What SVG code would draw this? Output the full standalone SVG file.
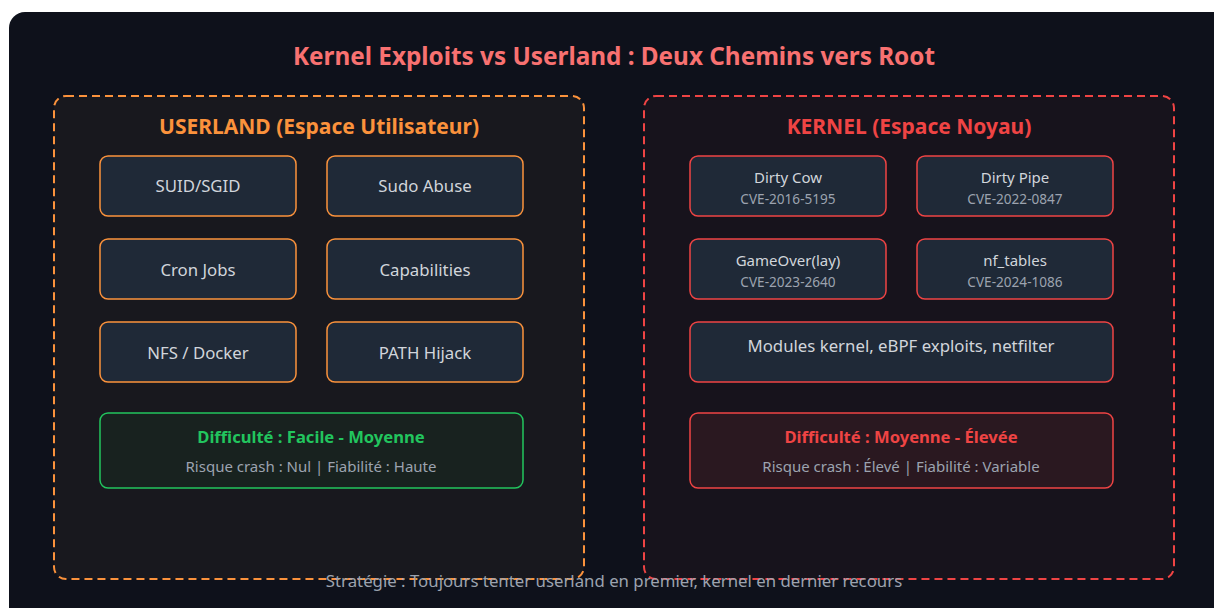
<svg xmlns="http://www.w3.org/2000/svg" width="1214" height="608" viewBox="0 0 1214 608">
<style>
text{font-family:"Noto Sans","Open Sans","DejaVu Sans",sans-serif;text-anchor:middle}
.title{font-size:24.3px;font-weight:bold;fill:#f87171}
.hdr{font-size:21px;font-weight:bold}
.ub{fill:#1f2937;stroke:#fb923c;stroke-width:1.5}
.kb{fill:#1f2937;stroke:#ef4444;stroke-width:1.5}
.lbl{font-size:16.8px;fill:#d1d5db}
.nm{font-size:15px;fill:#d1d5db}
.cve{font-size:13.6px;fill:#9ca3af}
.sub{font-size:15px;fill:#9ca3af}
.foot{font-size:16.8px;fill:#9ca3af}
.diff{font-size:16.6px;font-weight:bold}
</style>
<rect x="0" y="0" width="1214" height="608" fill="#ffffff"/>
<rect x="9" y="12" width="1225" height="620" rx="16" fill="#0e111b"/>
<text class="title" x="614" y="65">Kernel Exploits vs Userland : Deux Chemins vers Root</text>
<g id="userland">
<rect x="54" y="96" width="530" height="483" rx="12" fill="#18181e" stroke="#fb923c" stroke-width="2" stroke-dasharray="8,5"/>
<text class="hdr" x="319" y="134" fill="#fb923c">USERLAND (Espace Utilisateur)</text>
</g>
<g id="kernel">
<rect x="644" y="96" width="530" height="483" rx="12" fill="#17131c" stroke="#ef4444" stroke-width="2" stroke-dasharray="8,5"/>
<text class="hdr" x="909" y="134" fill="#ef4444">KERNEL (Espace Noyau)</text>
</g>
<g id="suid"><rect class="ub" x="100" y="156" width="196" height="60" rx="8"/><text class="lbl" x="198" y="192">SUID/SGID</text></g>
<g id="sudo"><rect class="ub" x="327" y="156" width="196" height="60" rx="8"/><text class="lbl" x="425" y="192">Sudo Abuse</text></g>
<g id="cron"><rect class="ub" x="100" y="239" width="196" height="60" rx="8"/><text class="lbl" x="198" y="276">Cron Jobs</text></g>
<g id="cap"><rect class="ub" x="327" y="239" width="196" height="60" rx="8"/><text class="lbl" x="425" y="276">Capabilities</text></g>
<g id="nfs"><rect class="ub" x="100" y="322" width="196" height="60" rx="8"/><text class="lbl" x="198" y="359">NFS / Docker</text></g>
<g id="path"><rect class="ub" x="327" y="322" width="196" height="60" rx="8"/><text class="lbl" x="425" y="359">PATH Hijack</text></g>
<g id="udiff"><rect x="100" y="413" width="423" height="75" rx="8" fill="#18221f" stroke="#22c55e" stroke-width="1.5"/>
<text class="diff" x="311" y="443" fill="#22c55e">Difficulté : Facile - Moyenne</text>
<text class="sub" x="311" y="472">Risque crash : Nul | Fiabilité : Haute</text></g>
<g id="dirtycow"><rect class="kb" x="690" y="156" width="196" height="60" rx="8"/><text class="nm" x="788" y="183">Dirty Cow</text><text class="cve" x="788" y="204">CVE-2016-5195</text></g>
<g id="dirtypipe"><rect class="kb" x="917" y="156" width="196" height="60" rx="8"/><text class="nm" x="1015" y="183">Dirty Pipe</text><text class="cve" x="1015" y="204">CVE-2022-0847</text></g>
<g id="gameover"><rect class="kb" x="690" y="239" width="196" height="60" rx="8"/><text class="nm" x="788" y="266">GameOver(lay)</text><text class="cve" x="788" y="287">CVE-2023-2640</text></g>
<g id="nftables"><rect class="kb" x="917" y="239" width="196" height="60" rx="8"/><text class="nm" x="1015" y="266">nf_tables</text><text class="cve" x="1015" y="287">CVE-2024-1086</text></g>
<g id="modules"><rect class="kb" x="690" y="322" width="423" height="60" rx="8"/><text class="lbl" x="901" y="352">Modules kernel, eBPF exploits, netfilter</text></g>
<g id="kdiff"><rect x="690" y="413" width="423" height="75" rx="8" fill="#2a1820" stroke="#ef4444" stroke-width="1.5"/>
<text class="diff" x="901" y="443" fill="#ef4444">Difficulté : Moyenne - Élevée</text>
<text class="sub" x="901" y="472">Risque crash : Élevé | Fiabilité : Variable</text></g>
<g id="connectors"></g>
<text class="foot" x="614" y="587">Stratégie : Toujours tenter userland en premier, kernel en dernier recours</text>
</svg>
